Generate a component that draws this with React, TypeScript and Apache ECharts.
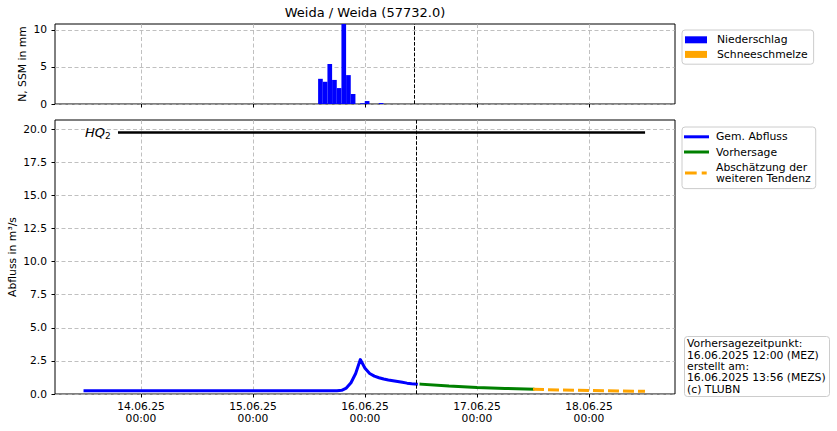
import React, { useEffect, useRef } from "react";
import * as echarts from "echarts";

const FONT = '"DejaVu Sans", sans-serif';

const chartTitle = "Weida / Weida (57732.0)";
const precipAxisName = "N, SSM in mm";
const flowAxisName = "Abfluss in m³/s";
const xRange: [string, string] = ["2025-06-13 05:34", "2025-06-18 18:26"];
const dayTicks = [
  "2025-06-14 00:00",
  "2025-06-15 00:00",
  "2025-06-16 00:00",
  "2025-06-17 00:00",
  "2025-06-18 00:00",
];
const forecastTime = "2025-06-16 11:00";
const precipTicks = [0, 5, 10];
const precipMax = 10.8;
const flowTicks = [0, 2.5, 5, 7.5, 10, 12.5, 15, 17.5, 20];
const flowMax = 20.7;

const niederschlag: [string, number][] = [
  ["2025-06-15 15:00", 3.4],
  ["2025-06-15 16:00", 3.0],
  ["2025-06-15 17:00", 5.4],
  ["2025-06-15 18:00", 3.25],
  ["2025-06-15 19:00", 2.15],
  ["2025-06-15 20:00", 11.2],
  ["2025-06-15 21:00", 3.9],
  ["2025-06-15 22:00", 1.35],
  ["2025-06-16 00:00", 0.1],
  ["2025-06-16 01:00", 0.4],
  ["2025-06-16 04:00", 0.13],
];
const schneeschmelze: [string, number][] = [];

const gemAbfluss: [string, number][] = [
  ["2025-06-13 12:00", 0.25],
  ["2025-06-14 00:00", 0.25],
  ["2025-06-14 12:00", 0.25],
  ["2025-06-15 00:00", 0.25],
  ["2025-06-15 12:00", 0.25],
  ["2025-06-15 18:00", 0.25],
  ["2025-06-15 19:00", 0.28],
  ["2025-06-15 20:00", 0.45],
  ["2025-06-15 21:00", 0.85],
  ["2025-06-15 22:00", 1.55],
  ["2025-06-15 23:00", 2.6],
  ["2025-06-16 00:00", 1.95],
  ["2025-06-16 01:00", 1.55],
  ["2025-06-16 02:00", 1.35],
  ["2025-06-16 03:00", 1.23],
  ["2025-06-16 04:00", 1.13],
  ["2025-06-16 05:00", 1.06],
  ["2025-06-16 06:00", 1.0],
  ["2025-06-16 07:00", 0.94],
  ["2025-06-16 08:00", 0.88],
  ["2025-06-16 09:00", 0.82],
  ["2025-06-16 10:00", 0.78],
  ["2025-06-16 11:00", 0.75],
];
const vorhersage: [string, number][] = [
  ["2025-06-16 12:00", 0.74],
  ["2025-06-16 18:00", 0.6],
  ["2025-06-17 00:00", 0.5],
  ["2025-06-17 06:00", 0.42],
  ["2025-06-17 12:00", 0.36],
];
const tendenz: [string, number][] = [
  ["2025-06-17 12:00", 0.35],
  ["2025-06-18 00:00", 0.26],
  ["2025-06-18 12:00", 0.2],
];
const hq2Value = 19.75;
const hq2Span: [string, string] = ["2025-06-13 19:20", "2025-06-18 11:45"];

const infoLines = [
  "Vorhersagezeitpunkt:",
  "16.06.2025 12:00 (MEZ)",
  "erstellt am:",
  "16.06.2025 13:56 (MEZS)",
  "(c) TLUBN",
];

const NAME_N = "Niederschlag";
const NAME_S = "Schneeschmelze";
const NAME_G = "Gem. Abfluss";
const NAME_V = "Vorhersage";
const NAME_T = "Abschätzung der\nweiteren Tendenz";

function ts(s: string): number {
  const [d, t] = s.split(" ");
  const [Y, M, D] = d.split("-").map(Number);
  const [h, m] = t.split(":").map(Number);
  return Date.UTC(Y, M - 1, D, h, m);
}
const conv = (arr: [string, number][]) => arr.map(([t, v]) => [ts(t), v]);
const p2 = (n: number) => String(n).padStart(2, "0");
function fmtDate(v: number): string {
  const d = new Date(v);
  return `${p2(d.getUTCDate())}.${p2(d.getUTCMonth() + 1)}.${String(
    d.getUTCFullYear()
  ).slice(2)}\n${p2(d.getUTCHours())}:${p2(d.getUTCMinutes())}`;
}

export default function App() {
  const ref = useRef<HTMLDivElement>(null);
  useEffect(() => {
    if (!ref.current) return;
    const chart = echarts.init(ref.current, undefined, { renderer: "svg" });
    const xMin = ts(xRange[0]);
    const xMax = ts(xRange[1]);
    const gridW = 620;
    const barW = (gridW * 3600000) / (xMax - xMin);
    const dayVals = dayTicks.map(ts);
    const gridLine = { show: true, lineStyle: { color: "#b0b0b0", type: [4, 2.5], width: 0.8 } };
    const tick = { show: true, length: 3.5, lineStyle: { color: "#000", width: 1 } };
    const labelStyle = { color: "#000", fontFamily: FONT, fontSize: 10.7 };
    const vline = {
      silent: true,
      symbol: "none",
      label: { show: false },
      lineStyle: { color: "#000", type: [3.7, 1.6], width: 1 },
      data: [{ xAxis: ts(forecastTime) }],
    };

    const option: any = {
      animation: false,
      title: [
        {
          text: chartTitle,
          left: 365,
          top: 6,
          textAlign: "center",
          padding: 0,
          textStyle: { fontFamily: FONT, fontSize: 13, fontWeight: "normal", color: "#000" },
        },
        {
          text: infoLines.join("\n"),
          left: 684,
          top: 336,
          padding: [2, 4, 2, 3],
          borderColor: "#cccccc",
          borderWidth: 1,
          borderRadius: 3,
          backgroundColor: "#ffffff",
          textStyle: {
            fontFamily: FONT,
            fontSize: 10.8,
            fontWeight: "normal",
            color: "#000",
            lineHeight: 11.4,
          },
        },
      ],
      legend: [
        {
          data: [
            { name: NAME_N, icon: "rect" },
            { name: NAME_S, icon: "rect" },
          ],
          orient: "vertical",
          left: 682,
          top: 30,
          padding: [4, 6, 4, 3],
          itemGap: 3,
          itemWidth: 22,
          itemHeight: 7,
          selectedMode: false,
          borderColor: "#cccccc",
          borderWidth: 1,
          borderRadius: 3,
          backgroundColor: "#ffffff",
          itemStyle: { borderWidth: 0 },
          textStyle: {
            fontFamily: FONT,
            fontSize: 10.8,
            color: "#000",
            lineHeight: 11.6,
            padding: [0, 0, 0, 5],
          },
        },
        {
          data: [
            { name: NAME_G, icon: "rect" },
            { name: NAME_V, icon: "rect" },
            {
              name: NAME_T,
              icon: "path://M0 0M25 3M1 0H12.7V3H1Z M17.7 0H22.7V3H17.7Z",
            },
          ],
          orient: "vertical",
          left: 682,
          top: 127,
          padding: [4, 5, 4, 2],
          itemGap: 3.6,
          itemWidth: 25,
          itemHeight: 3,
          selectedMode: false,
          borderColor: "#cccccc",
          borderWidth: 1,
          borderRadius: 3,
          backgroundColor: "#ffffff",
          itemStyle: { borderWidth: 0 },
          textStyle: {
            fontFamily: FONT,
            fontSize: 10.8,
            color: "#000",
            lineHeight: 11.6,
            padding: [0, 0, 0, 2],
          },
        },
      ],
      grid: [
        { left: 55, top: 24, width: gridW, height: 80, show: true, borderColor: "#000", borderWidth: 1, backgroundColor: "transparent", containLabel: false, outerBoundsMode: "none" },
        { left: 55, top: 120, width: gridW, height: 274, show: true, borderColor: "#000", borderWidth: 1, backgroundColor: "transparent", containLabel: false, outerBoundsMode: "none" },
      ],
      xAxis: [
        {
          type: "value",
          gridIndex: 0,
          min: xMin,
          max: xMax,
          axisLine: { show: false },
          axisTick: { ...tick, customValues: dayVals },
          axisLabel: { show: false, customValues: dayVals },
          splitLine: gridLine,
        },
        {
          type: "value",
          gridIndex: 1,
          min: xMin,
          max: xMax,
          axisLine: { show: false },
          axisTick: { ...tick, customValues: dayVals },
          axisLabel: {
            ...labelStyle,
            customValues: dayVals,
            formatter: (v: number) => fmtDate(v),
            margin: 6,
            lineHeight: 12.5,
            align: "center",
          },
          splitLine: gridLine,
        },
      ],
      yAxis: [
        {
          type: "value",
          gridIndex: 0,
          min: 0,
          max: precipMax,
          name: precipAxisName,
          nameLocation: "middle",
          nameGap: 27,
          nameMoveOverlap: false,
          nameTextStyle: { fontFamily: FONT, fontSize: 10.8, color: "#000" },
          axisLine: { show: false },
          axisTick: { ...tick, customValues: precipTicks },
          axisLabel: { ...labelStyle, customValues: precipTicks, margin: 8, formatter: (v: number) => String(v) },
          splitLine: gridLine,
        },
        {
          type: "value",
          gridIndex: 1,
          min: 0,
          max: flowMax,
          name: flowAxisName,
          nameLocation: "middle",
          nameGap: 37,
          nameMoveOverlap: false,
          nameTextStyle: { fontFamily: FONT, fontSize: 10.8, color: "#000" },
          axisLine: { show: false },
          axisTick: { ...tick, customValues: flowTicks },
          axisLabel: { ...labelStyle, customValues: flowTicks, margin: 8, formatter: (v: number) => v.toFixed(1) },
          splitLine: gridLine,
        },
      ],
      series: [
        {
          name: NAME_N,
          type: "bar",
          xAxisIndex: 0,
          yAxisIndex: 0,
          data: conv(niederschlag),
          barWidth: barW,
          color: "#0000ff",
          itemStyle: { color: "#0000ff" },
          markLine: vline,
        },
        {
          name: NAME_S,
          type: "bar",
          xAxisIndex: 0,
          yAxisIndex: 0,
          data: conv(schneeschmelze),
          barWidth: barW,
          color: "#ffa500",
          itemStyle: { color: "#ffa500" },
        },
        {
          name: "HQ2",
          type: "line",
          xAxisIndex: 1,
          yAxisIndex: 1,
          data: [
            [ts(hq2Span[0]), hq2Value],
            [ts(hq2Span[1]), hq2Value],
          ],
          showSymbol: false,
          symbol: "none",
          color: "#000",
          lineStyle: { color: "#000", width: 2.5, cap: "square" },
          markPoint: {
            symbol: "rect",
            symbolSize: 1,
            itemStyle: { color: "rgba(0,0,0,0)" },
            silent: true,
            label: {
              show: true,
              position: "left",
              distance: 8,
              formatter: "{a|HQ}{b|2}",
              rich: {
                a: { fontFamily: FONT, fontSize: 13, fontStyle: "italic", color: "#000" },
                b: { fontFamily: FONT, fontSize: 9, color: "#000", padding: [7, 0, 0, 0] },
              },
            },
            data: [{ coord: [ts(hq2Span[0]), hq2Value] }],
          },
        },
        {
          name: NAME_G,
          type: "line",
          xAxisIndex: 1,
          yAxisIndex: 1,
          data: conv(gemAbfluss),
          showSymbol: false,
          symbol: "none",
          color: "#0000ff",
          lineStyle: { color: "#0000ff", width: 3, cap: "square", join: "round" },
          markLine: vline,
        },
        {
          name: NAME_V,
          type: "line",
          xAxisIndex: 1,
          yAxisIndex: 1,
          data: conv(vorhersage),
          showSymbol: false,
          symbol: "none",
          color: "#008000",
          lineStyle: { color: "#008000", width: 3, cap: "square" },
        },
        {
          name: NAME_T,
          type: "line",
          xAxisIndex: 1,
          yAxisIndex: 1,
          data: conv(tendenz),
          showSymbol: false,
          symbol: "none",
          color: "#ffa500",
          lineStyle: { color: "#ffa500", width: 3, type: [11, 4] },
        },
      ],
    };
    chart.setOption(option);
    return () => chart.dispose();
  }, []);
  return (
    <div
      ref={ref}
      style={{ position: "fixed", left: 0, top: 0, width: 837, height: 431, background: "#fff" }}
    />
  );
}
